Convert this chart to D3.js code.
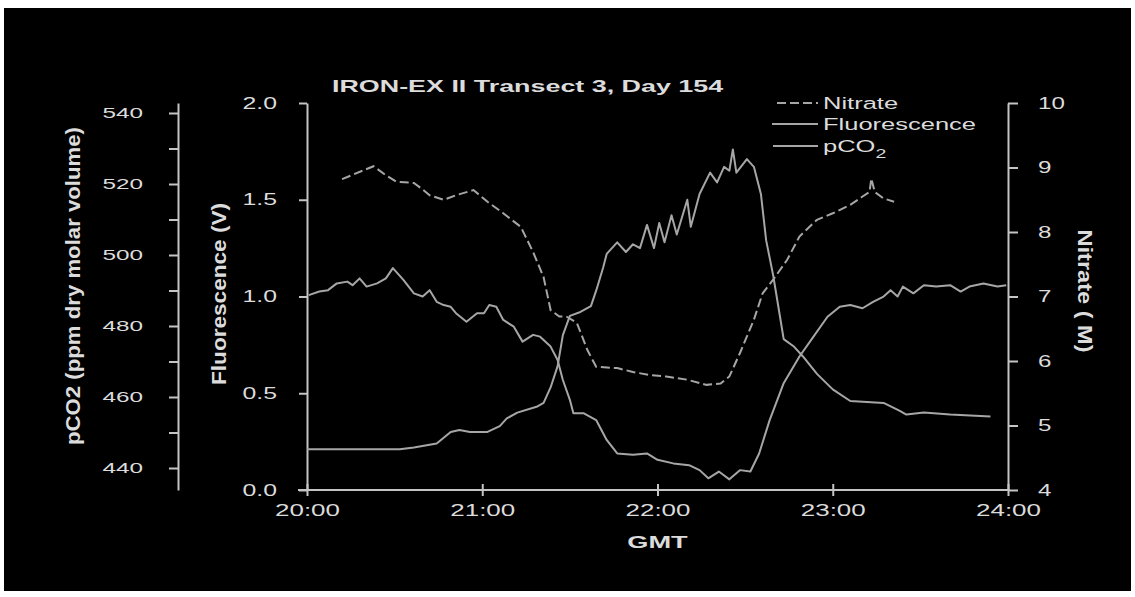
<!DOCTYPE html>
<html>
<head>
<meta charset="utf-8">
<script src="https://cdn.jsdelivr.net/npm/d3@7"></script>
<style>
  html, body { margin: 0; padding: 0; background: #ffffff; }
  svg { display: block; }
  text { font-family: "Liberation Sans", Arial, Helvetica, sans-serif; }
</style>
</head>
<body>
<svg id="chart" width="1135" height="597"></svg>
<script>
// ---------------- data ----------------
const title = "IRON-EX II Transect 3, Day 154";
const seriesNames = ["Nitrate", "Fluorescence", "pCO2"];
const xTicks = [20, 21, 22, 23, 24];
const xTickLabels = ["20:00", "21:00", "22:00", "23:00", "24:00"];
const fluorTicks = [0, 0.5, 1.0, 1.5, 2.0];
const pco2Ticks = [440, 450, 460, 470, 480, 490, 500, 510, 520, 530, 540];
const nitrateTicks = [4, 5, 6, 7, 8, 9, 10];

// time in decimal hours GMT
const nitrateTime = [20.20,20.38,20.45,20.51,20.61,20.65,20.70,20.78,20.85,20.95,21.03,21.12,21.22,21.29,21.35,21.39,21.44,21.48,21.54,21.60,21.65,21.77,21.86,21.96,22.05,22.17,22.28,22.36,22.41,22.47,22.55,22.60,22.66,22.74,22.81,22.91,23.00,23.10,23.17,23.21,23.22,23.24,23.29,23.35];
const nitrateValues = [8.82,9.02,8.88,8.78,8.76,8.68,8.57,8.50,8.57,8.65,8.47,8.29,8.08,7.69,7.30,6.79,6.69,6.69,6.59,6.17,5.91,5.89,5.83,5.78,5.76,5.71,5.63,5.65,5.76,6.12,6.64,7.05,7.26,7.57,7.93,8.19,8.29,8.42,8.55,8.62,8.83,8.62,8.52,8.47];

const fluorTime = [20.00,20.30,20.53,20.61,20.74,20.82,20.87,20.93,21.03,21.10,21.14,21.20,21.31,21.35,21.39,21.43,21.46,21.50,21.56,21.62,21.65,21.69,21.71,21.77,21.82,21.86,21.90,21.94,21.98,22.01,22.04,22.08,22.11,22.17,22.19,22.24,22.30,22.34,22.38,22.41,22.43,22.45,22.51,22.55,22.59,22.62,22.66,22.70,22.72,22.78,22.83,22.91,23.00,23.10,23.29,23.38,23.42,23.52,23.67,23.90];
const fluorValues = [0.21,0.21,0.21,0.22,0.24,0.30,0.31,0.30,0.30,0.33,0.37,0.40,0.43,0.45,0.53,0.64,0.80,0.90,0.92,0.95,1.03,1.15,1.22,1.28,1.23,1.27,1.25,1.37,1.25,1.38,1.28,1.42,1.32,1.50,1.36,1.53,1.64,1.59,1.67,1.65,1.76,1.64,1.71,1.67,1.53,1.29,1.11,0.89,0.78,0.74,0.69,0.60,0.52,0.46,0.45,0.41,0.39,0.40,0.39,0.38];

const pco2Time = [20.01,20.07,20.12,20.17,20.23,20.26,20.30,20.34,20.40,20.45,20.49,20.55,20.61,20.66,20.70,20.74,20.78,20.82,20.85,20.91,20.97,21.01,21.04,21.08,21.12,21.18,21.23,21.29,21.33,21.39,21.43,21.46,21.50,21.52,21.58,21.65,21.71,21.77,21.86,21.94,22.00,22.09,22.18,22.24,22.29,22.35,22.41,22.47,22.53,22.58,22.64,22.72,22.81,22.89,22.97,23.04,23.10,23.17,23.23,23.29,23.33,23.37,23.40,23.46,23.52,23.59,23.67,23.73,23.78,23.86,23.94,23.99];
const pco2Values = [488.7,489.7,490.1,492.0,492.5,491.5,493.4,491.1,492.0,493.4,496.3,493.0,489.2,488.3,490.1,486.8,485.9,485.4,483.6,481.2,483.6,483.6,485.9,485.4,481.7,479.8,475.6,477.5,477.0,474.2,470.4,464.8,459.2,455.4,455.4,453.5,447.9,444.1,443.7,444.1,442.3,441.3,440.8,439.4,437.1,439.0,436.8,439.4,439.0,444.1,453.5,463.9,471.4,477.0,482.6,485.4,485.9,485.0,486.8,488.3,490.1,488.3,491.1,489.2,491.5,491.1,491.5,489.7,491.1,492.0,491.1,491.5];

// ---------------- layout & style ----------------
const W = 1135, H = 597;
const plot = { left: 307, right: 1008, top: 103, bottom: 490 };
const pAxisX = 178;
const TEXT = "#dcdcdc", AXIS = "#c4c4c4", LINE = "#a6a6a6";

const svg = d3.select("#chart");
svg.append("rect").attr("x", 0).attr("y", 0).attr("width", W).attr("height", H).attr("fill", "#ffffff");
svg.append("rect").attr("x", 4).attr("y", 8).attr("width", W - 8).attr("height", H - 14).attr("fill", "#000000");

// scales
const x = d3.scaleLinear().domain([20, 24]).range([plot.left, plot.right]);
const yF = d3.scaleLinear().domain([0, 2]).range([plot.bottom, plot.top]);
const yN = d3.scaleLinear().domain([4, 10]).range([plot.bottom, plot.top]);
// pCO2: 440 sits at y=468, 540 at y=113; axis spans the same height as the plot
const pPerPx = 100 / (468 - 113);
const yP = d3.scaleLinear()
  .domain([440 - (plot.bottom - 468) * pPerPx, 540 + (113 - plot.top) * pPerPx])
  .range([plot.bottom, plot.top]);

function stretch(sel, f) {
  sel.each(function () {
    const w = this.getComputedTextLength();
    d3.select(this).attr("textLength", w * f).attr("lengthAdjust", "spacingAndGlyphs");
  });
}
function styleAxis(g) {
  g.select(".domain").attr("stroke", AXIS).attr("stroke-width", 2);
  g.selectAll(".tick line").attr("stroke", AXIS).attr("stroke-width", 2);
  g.selectAll(".tick text").attr("fill", TEXT);
}

// ---------------- axes ----------------
// fluorescence (left of plot)
const gF = svg.append("g").attr("transform", `translate(${plot.left},0)`)
  .call(d3.axisLeft(yF).tickValues(fluorTicks).tickFormat(d3.format(".1f"))
    .tickSize(8).tickSizeOuter(0).tickPadding(22));
styleAxis(gF);
gF.selectAll(".tick text").attr("font-size", 16);
stretch(gF.selectAll(".tick text"), 1.55);

// pCO2 (far left)
const gP = svg.append("g").attr("transform", `translate(${pAxisX},0)`)
  .call(d3.axisLeft(yP).tickValues(pco2Ticks)
    .tickFormat(d => (d % 20 === 0 ? String(d) : ""))
    .tickSize(9).tickSizeOuter(0).tickPadding(26));
styleAxis(gP);
gP.selectAll(".tick text").attr("font-size", 15);
stretch(gP.selectAll(".tick text").filter(function () { return this.textContent !== ""; }), 1.62);

// nitrate (right)
const gN = svg.append("g").attr("transform", `translate(${plot.right},0)`)
  .call(d3.axisRight(yN).tickValues(nitrateTicks).tickFormat(d3.format("d"))
    .tickSize(10).tickSizeOuter(0).tickPadding(20));
styleAxis(gN);
gN.selectAll(".tick text").attr("font-size", 17);
stretch(gN.selectAll(".tick text"), 1.42);

// time axis (bottom)
const gX = svg.append("g").attr("transform", `translate(0,${plot.bottom})`)
  .call(d3.axisBottom(x).tickValues(xTicks).tickFormat((d, i) => xTickLabels[i])
    .tickSize(6).tickSizeOuter(0).tickPadding(8));
styleAxis(gX);
gX.select(".domain").attr("d", `M${plot.left - 9},0H${plot.right + 2}`);
gX.selectAll(".tick line").attr("y1", -6).attr("y2", 6);
gX.selectAll(".tick text").attr("font-size", 16).attr("y", 15).attr("dy", "0.71em");
stretch(gX.selectAll(".tick text"), 1.62);

// ---------------- lines ----------------
const clip = svg.append("g");
const nitrateData = nitrateTime.map((t, i) => ({ t, v: nitrateValues[i] }));
const fluorData = fluorTime.map((t, i) => ({ t, v: fluorValues[i] }));
const pco2Data = pco2Time.map((t, i) => ({ t, v: pco2Values[i] }));

clip.append("path").datum(pco2Data)
  .attr("fill", "none").attr("stroke", LINE).attr("stroke-width", 2).attr("stroke-linejoin", "round")
  .attr("d", d3.line().x(d => x(d.t)).y(d => yP(d.v)));
clip.append("path").datum(fluorData)
  .attr("fill", "none").attr("stroke", LINE).attr("stroke-width", 2).attr("stroke-linejoin", "round")
  .attr("d", d3.line().x(d => x(d.t)).y(d => yF(d.v)));
clip.append("path").datum(nitrateData)
  .attr("fill", "none").attr("stroke", LINE).attr("stroke-width", 2).attr("stroke-dasharray", "9,4")
  .attr("d", d3.line().x(d => x(d.t)).y(d => yN(d.v)));

// ---------------- titles ----------------
const t = svg.append("text").attr("x", 332).attr("y", 92)
  .attr("fill", TEXT).attr("font-size", 17).attr("font-weight", "bold").text(title);
stretch(t, 1.58);

const gmt = svg.append("text").attr("x", (plot.left + plot.right) / 2).attr("y", 548)
  .attr("text-anchor", "middle").attr("fill", TEXT).attr("font-size", 17).attr("font-weight", "bold").text("GMT");
stretch(gmt, 1.6);

svg.append("text").attr("transform", "translate(80,286) rotate(-90)")
  .attr("text-anchor", "middle").attr("fill", TEXT).attr("font-size", 21).attr("font-weight", "bold")
  .attr("textLength", 318).attr("lengthAdjust", "spacingAndGlyphs")
  .text("pCO2 (ppm dry molar volume)");

svg.append("text").attr("transform", "translate(226,294) rotate(-90)")
  .attr("text-anchor", "middle").attr("fill", TEXT).attr("font-size", 21).attr("font-weight", "bold")
  .attr("textLength", 182).attr("lengthAdjust", "spacingAndGlyphs")
  .text("Fluorescence (V)");

svg.append("text").attr("transform", "translate(1078,291) rotate(90)")
  .attr("text-anchor", "middle").attr("fill", TEXT).attr("font-size", 20).attr("font-weight", "bold")
  .attr("textLength", 123).attr("lengthAdjust", "spacingAndGlyphs")
  .text("Nitrate ( M)");

// ---------------- legend ----------------
const legend = svg.append("g");
const legendRows = [
  { name: seriesNames[0], y: 103, x1: 777, dash: "9,4", len: 77 },
  { name: seriesNames[1], y: 124, x1: 772, dash: null, len: 157 },
  { name: seriesNames[2], y: 146, x1: 773, dash: null, len: 71 }
];
legendRows.forEach(r => {
  legend.append("line").attr("x1", r.x1).attr("x2", 818).attr("y1", r.y).attr("y2", r.y)
    .attr("stroke", LINE).attr("stroke-width", 2).attr("stroke-dasharray", r.dash);
  const g = legend.append("g").attr("transform", `translate(823,${r.y + 6}) scale(1.5,1)`);
  const tx = g.append("text").attr("fill", TEXT).attr("font-size", 17);
  if (r.name === "pCO2") {
    tx.append("tspan").text("pCO");
    tx.append("tspan").attr("font-size", 13).attr("dy", 6).text("2");
  } else {
    tx.text(r.name);
  }
});
</script>
</body>
</html>
